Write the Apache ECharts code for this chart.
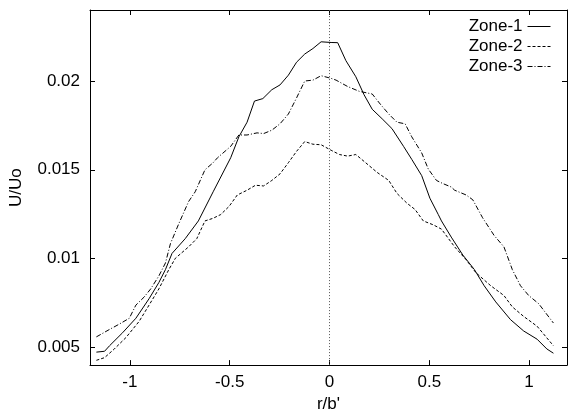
<!DOCTYPE html>
<html>
<head>
<meta charset="utf-8">
<script src="https://cdn.jsdelivr.net/npm/echarts@6/dist/echarts.min.js"></script>
<style>html,body{margin:0;padding:0;background:#fff}#c{width:572px;height:418px}</style>
</head>
<body>
<div id="c"></div>
<script>
var xTicks = [-1, -0.5, 0, 0.5, 1];
var yTicks = [0.005, 0.01, 0.015, 0.02];

var zone1X = [-1.168,-1.127,-1.102,-1.037,-0.970,-0.904,-0.855,-0.822,-0.789,-0.723,-0.657,-0.583,-0.495,-0.454,-0.413,-0.376,-0.334,-0.289,-0.248,-0.206,-0.165,-0.124,-0.083,-0.042,0.008,0.041,0.082,0.132,0.173,0.214,0.264,0.313,0.371,0.412,0.462,0.503,0.545,0.561,0.610,0.668,0.726,0.775,0.833,0.907,0.973,1.040,1.089,1.122];
var zone1Y = [0.00473,0.00478,0.00509,0.00582,0.00664,0.00774,0.00865,0.00938,0.01029,0.01112,0.01212,0.01376,0.01568,0.01686,0.01768,0.01887,0.01901,0.01951,0.01978,0.02033,0.02106,0.02152,0.02183,0.02221,0.02217,0.02216,0.02115,0.02024,0.01923,0.01841,0.01787,0.01732,0.01632,0.01559,0.01467,0.01340,0.01248,0.01212,0.01121,0.01020,0.00938,0.00847,0.00756,0.00656,0.00592,0.00546,0.00491,0.00467];

var zone2X = [-1.168,-1.127,-1.078,-1.020,-0.954,-0.904,-0.855,-0.805,-0.772,-0.706,-0.665,-0.624,-0.583,-0.545,-0.503,-0.462,-0.413,-0.371,-0.330,-0.289,-0.248,-0.206,-0.165,-0.124,-0.083,-0.042,0.008,0.050,0.091,0.132,0.181,0.239,0.297,0.338,0.388,0.429,0.470,0.520,0.561,0.627,0.685,0.734,0.808,0.874,0.916,0.973,1.040,1.081,1.122];
var zone2Y = [0.00427,0.00442,0.00491,0.00555,0.00646,0.00738,0.00829,0.00938,0.01002,0.01066,0.01112,0.01212,0.01227,0.01248,0.01294,0.01358,0.01385,0.01413,0.01409,0.01440,0.01477,0.01540,0.01604,0.01659,0.01644,0.01641,0.01610,0.01586,0.01577,0.01586,0.01540,0.01485,0.01440,0.01367,0.01312,0.01276,0.01212,0.01190,0.01166,0.01066,0.00993,0.00920,0.00847,0.00792,0.00728,0.00674,0.00619,0.00564,0.00509];

var zone3X = [-1.168,-1.102,-1.053,-1.003,-0.970,-0.929,-0.896,-0.855,-0.822,-0.797,-0.756,-0.706,-0.673,-0.624,-0.583,-0.561,-0.495,-0.454,-0.413,-0.363,-0.330,-0.289,-0.248,-0.206,-0.165,-0.124,-0.083,-0.042,0.008,0.033,0.091,0.149,0.214,0.255,0.297,0.338,0.379,0.412,0.462,0.495,0.536,0.569,0.610,0.627,0.685,0.718,0.767,0.825,0.874,0.916,0.957,0.998,1.048,1.122];
var zone3Y = [0.00559,0.00601,0.00631,0.00664,0.00738,0.00783,0.00829,0.00902,0.00975,0.01084,0.01194,0.01321,0.01376,0.01500,0.01540,0.01568,0.01632,0.01696,0.01696,0.01708,0.01704,0.01723,0.01759,0.01814,0.01905,0.02000,0.02005,0.02030,0.02015,0.02005,0.01969,0.01942,0.01927,0.01869,0.01814,0.01768,0.01759,0.01686,0.01595,0.01504,0.01440,0.01422,0.01403,0.01385,0.01358,0.01331,0.01230,0.01130,0.01066,0.00938,0.00847,0.00792,0.00746,0.00637];

var seriesNames = ['Zone-1', 'Zone-2', 'Zone-3'];

function pairs(xs, ys) { return xs.map(function (x, i) { return [x, ys[i]]; }); }

var FONT = '"Liberation Sans", Arial, Helvetica, sans-serif';
var axisLine = { show: true, onZero: false, lineStyle: { color: '#000', width: 1 } };
var tickIn = { show: true, inside: true, length: 5, lineStyle: { color: '#000', width: 1 } };

var chart = echarts.init(document.getElementById('c'), null, { renderer: 'canvas' });
chart.setOption({
  animation: false,
  backgroundColor: '#fff',
  grid: { left: 84, right: 5, top: 10, bottom: 43, containLabel: false },
  legend: {
    data: seriesNames,
    orient: 'vertical',
    right: 16,
    top: 13,
    align: 'right',
    itemWidth: 23,
    itemHeight: 14,
    itemGap: 3,
    itemStyle: { opacity: 0 },
    lineStyle: { width: 1 },
    textStyle: { fontFamily: FONT, fontSize: 17, color: '#000' }
  },
  xAxis: [{
    type: 'value', min: -1.2, max: 1.19, position: 'bottom',
    name: "r/b'", nameLocation: 'middle', nameGap: 28,
    nameTextStyle: { fontFamily: FONT, fontSize: 17, color: '#000' },
    axisLine: axisLine,
    axisTick: Object.assign({}, tickIn, { customValues: xTicks }),
    axisLabel: { customValues: xTicks, fontFamily: FONT, fontSize: 17, color: '#000', margin: 9 },
    splitLine: { show: false }
  }, {
    type: 'value', min: -1.2, max: 1.19, position: 'top',
    axisLine: axisLine,
    axisTick: Object.assign({}, tickIn, { customValues: xTicks }),
    axisLabel: { show: false },
    splitLine: { show: false }
  }],
  yAxis: [{
    type: 'value', min: 0.004, max: 0.024, position: 'left',
    name: 'U/Uo', nameLocation: 'middle', nameGap: 65, nameRotate: 90,
    nameTextStyle: { fontFamily: FONT, fontSize: 17, color: '#000' },
    axisLine: axisLine,
    axisTick: Object.assign({}, tickIn, { customValues: yTicks }),
    axisLabel: { customValues: yTicks, fontFamily: FONT, fontSize: 17, color: '#000', margin: 10 },
    splitLine: { show: false }
  }, {
    type: 'value', min: 0.004, max: 0.024, position: 'right',
    axisLine: axisLine,
    axisTick: Object.assign({}, tickIn, { customValues: yTicks }),
    axisLabel: { show: false },
    splitLine: { show: false }
  }],
  series: [{
    name: seriesNames[0], type: 'line', data: pairs(zone1X, zone1Y),
    showSymbol: false, symbol: 'none',
    lineStyle: { color: '#000', width: 1, type: 'solid' }, itemStyle: { color: '#000' },
    markLine: {
      silent: true, symbol: 'none', label: { show: false },
      lineStyle: { color: '#555', width: 1, type: [1, 2] },
      data: [{ xAxis: 0 }]
    }
  }, {
    name: seriesNames[1], type: 'line', data: pairs(zone2X, zone2Y),
    showSymbol: false, symbol: 'none',
    lineStyle: { color: '#000', width: 1, type: [3, 2] }, itemStyle: { color: '#000' }
  }, {
    name: seriesNames[2], type: 'line', data: pairs(zone3X, zone3Y),
    showSymbol: false, symbol: 'none',
    lineStyle: { color: '#000', width: 1, type: [5, 2, 1, 2] }, itemStyle: { color: '#000' }
  }]
});
</script>
</body>
</html>
